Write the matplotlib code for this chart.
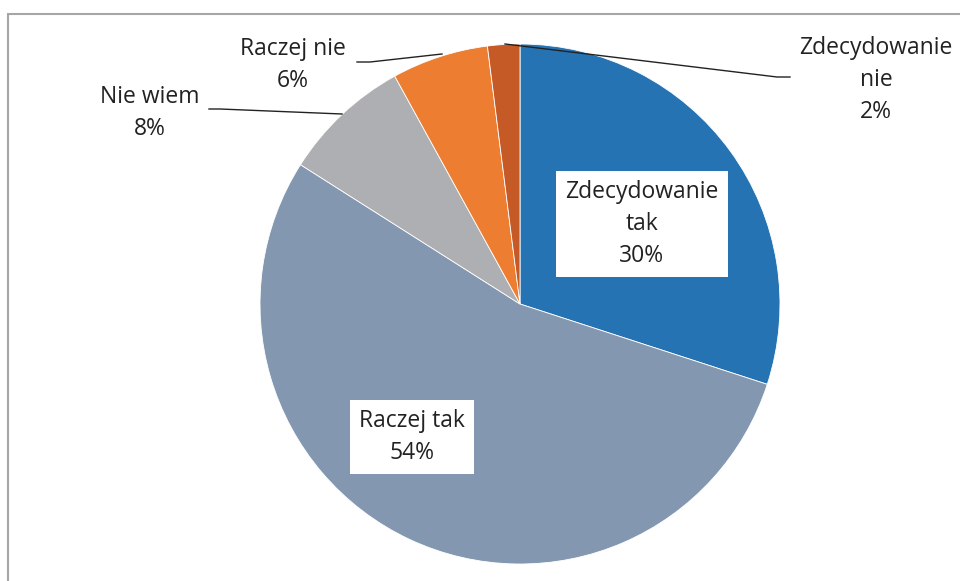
import matplotlib.pyplot as plt
from matplotlib.patches import Rectangle

# survey answers, clockwise from 12 o'clock
labels = ["Zdecydowanie\ntak", "Raczej tak", "Nie wiem", "Raczej nie", "Zdecydowanie\nnie"]
shares = [30, 54, 8, 6, 2]
colors = ["#2673B4", "#8497B0", "#AEAFB2", "#ED7D31", "#C55A26"]

plt.rcParams['font.family'] = ['Open Sans', 'DejaVu Sans']

W, H = 960, 581
fig = plt.figure(figsize=(9.6, 5.81), dpi=100)
ax = fig.add_axes([0, 0, 1, 1])

def py(y):
    # convert pixel row (from top) to data y
    return H - y

cx, cy, r = 520, py(304), 260
ax.pie(shares, colors=colors, startangle=90, counterclock=False,
       center=(cx, cy), radius=r, frame=True,
       wedgeprops=dict(edgecolor='white', linewidth=0.6))
ax.set_xlim(0, W)
ax.set_ylim(0, H)
ax.set_aspect('equal')
ax.axis('off')

# chart area border (only top and left visible)
ax.add_patch(Rectangle((8, -20), W, py(14) + 20, fill=False,
                       edgecolor='#A6A6A6', linewidth=1.5, clip_on=False))

txt = [f"{l}\n{s}%" for l, s in zip(labels, shares)]
fs = 16.5
ls = 1.45
ink = '#222222'
box = dict(boxstyle='square,pad=0.4', facecolor='white', edgecolor='none')

# inside labels
ax.text(642, py(224), txt[0], ha='center', va='center', fontsize=fs,
        linespacing=ls, color=ink, bbox=box)
ax.text(412, py(437), txt[1], ha='center', va='center', fontsize=fs,
        linespacing=ls, color=ink, bbox=box)

# outside labels with leader lines
ax.text(150, py(113), txt[2], ha='center', va='center', fontsize=fs,
        linespacing=ls, color=ink)
ax.plot([209, 220, 342], [py(109), py(109), py(114)], color=ink, lw=1)

ax.text(293, py(65), txt[3], ha='center', va='center', fontsize=fs,
        linespacing=ls, color=ink)
ax.plot([357, 370, 442], [py(62), py(62), py(54)], color=ink, lw=1)

ax.text(876, py(80), txt[4], ha='center', va='center', fontsize=fs,
        linespacing=ls, color=ink)
ax.plot([790, 777, 505], [py(77), py(77), py(44)], color=ink, lw=1)

fig.savefig('out.png', dpi=100)
